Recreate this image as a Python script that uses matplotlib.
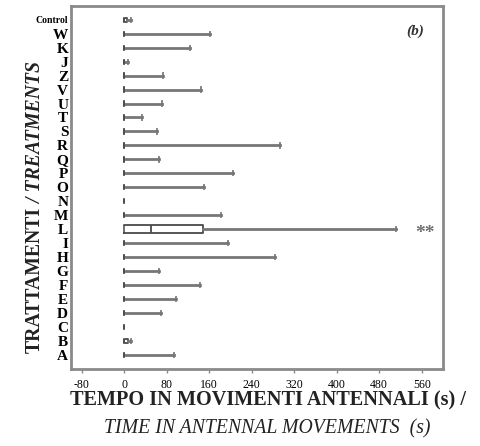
import matplotlib
matplotlib.use("Agg")
import matplotlib.pyplot as plt

# Trattamenti dal basso verso l'alto
treatments = ["A", "B", "C", "D", "E", "F", "G", "H", "I", "L", "M", "N", "O",
              "P", "Q", "R", "S", "T", "U", "V", "Z", "J", "K", "W", "Control"]
# Quartili, mediana e massimo (s)
q1 = [0, 0, 0, 0, 0, 0, 0, 0, 0, 0, 0, 0, 0,
      0, 0, 0, 0, 0, 0, 0, 0, 0, 0, 0, 0]
median = [0, 0, 0, 0, 0, 0, 0, 0, 0, 50, 0, 0, 0,
          0, 0, 0, 0, 0, 0, 0, 0, 0, 0, 0, 0]
q3 = [0, 8, 0, 0, 0, 0, 0, 0, 0, 148, 0, 0, 0,
      0, 0, 0, 0, 0, 0, 0, 0, 0, 0, 0, 6]
whisker_max = [93, 12, 0, 70, 98, 143, 66, 284, 196, 511, 182, 0, 151,
               204, 66, 293, 61, 33, 71, 145, 74, 8, 124, 162, 12]
significant = {"L": "**"}
x_ticks = [-80, 0, 80, 160, 240, 320, 400, 480, 560]

plt.rcParams['font.family'] = ['Liberation Serif', 'DejaVu Serif']

fig = plt.figure(figsize=(4.81, 4.46), dpi=100)
ax = fig.add_axes([0.1476, 0.1726, 0.7734, 0.8146])

stats = []
for i in range(len(treatments)):
    stats.append({"label": treatments[i], "q1": q1[i], "med": median[i], "q3": q3[i],
                  "whislo": 0, "whishi": whisker_max[i], "fliers": []})

widths = [0.55 if q3[i] - q1[i] > 20 else 0.3 for i in range(len(treatments))]
grey = '#777777'
ax.bxp(stats, positions=range(len(treatments)), widths=widths, orientation='horizontal',
       capwidths=0.3,
       boxprops=dict(color='#4a4a4a', linewidth=1.3),
       medianprops=dict(color='#4a4a4a', linewidth=1.3),
       whiskerprops=dict(color=grey, linewidth=2),
       capprops=dict(color=grey, linewidth=1.3))

for i, t in enumerate(treatments):
    if t in significant:
        ax.text(566, i - 0.3, significant[t], ha='center', va='center', fontsize=14,
                fontweight='bold', color='#6e6e6e')

ax.set_xlim(-100, 600)
ax.set_ylim(-1, 25)
ax.set_xticks(x_ticks)
ax.set_xticklabels([str(v) for v in x_ticks], fontsize=8.5)
ax.set_yticks(range(len(treatments)))
ax.set_yticklabels(treatments, fontsize=11, fontweight='bold')
for lab in ax.get_yticklabels():
    if lab.get_text() == "Control":
        lab.set_fontsize(7)
ax.tick_params(axis='x', length=3, width=1, color='#8a8a8a', pad=4)
ax.tick_params(axis='y', length=0, pad=2)
for s in ax.spines.values():
    s.set_color('#8a8a8a')
    s.set_linewidth(2)

ax.text(0.95, 0.93, "(b)", transform=ax.transAxes, ha='right', va='center',
        fontsize=11, fontstyle='italic', fontweight='bold', color='#333333')

# etichetta asse y: parte italiana in grassetto, inglese in corsivo
t1 = fig.text(0.072, 0.2085, "TRATTAMENTI", rotation=90, ha='center', va='bottom',
              fontsize=14.2, fontweight='bold', color='#222222')
ax.annotate(" / TREATMENTS", xy=(0.5, 1), xycoords=t1, rotation=90, ha='center',
            va='bottom', fontsize=14.2, fontweight='bold', fontstyle='italic',
            color='#222222', annotation_clip=False)

fig.text(0.558, 0.0919, "TEMPO IN MOVIMENTI ANTENNALI (s) /", ha='center', va='baseline',
         fontsize=14.6, fontweight='bold', color='#222222')
fig.text(0.556, 0.027, "TIME IN ANTENNAL MOVEMENTS  (s)", ha='center', va='baseline',
         fontsize=14.2, fontstyle='italic', color='#222222')

fig.savefig("out.png", dpi=100)
